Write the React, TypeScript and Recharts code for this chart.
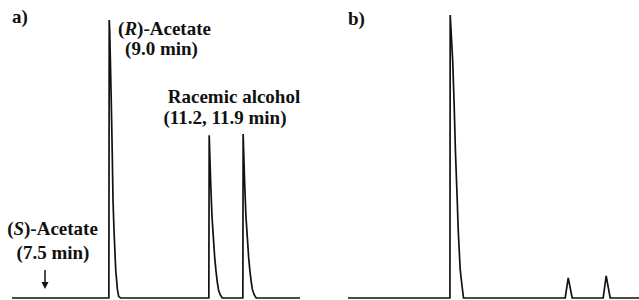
import { LineChart, Line, XAxis, YAxis } from "recharts";

// panel a) – racemic run, retention time (min) vs detector signal (% of tallest peak)
const traceATime = [
  6.88,
  8.992, 9.0, 9.011, 9.044, 9.065, 9.083, 9.105, 9.142, 9.179, 9.207, 9.25,
  11.172, 11.18, 11.213, 11.241, 11.274, 11.3, 11.326, 11.355, 11.383, 11.42, 11.464,
  11.914, 11.92, 11.953, 11.981, 12.014, 12.04, 12.066, 12.095, 12.123, 12.16, 12.204,
  13.16,
];
const traceASignal = [
  0,
  0, 100, 96, 71, 53, 35, 24, 10, 3, 0.5, 0,
  0, 58.5, 41, 29.3, 21, 14.6, 10, 5.9, 2.9, 1.2, 0,
  0, 59, 41.3, 29.5, 21.2, 14.7, 10, 6, 3, 1.2, 0,
  0,
];

// panel b) – after resolution
const traceBTime = [
  7.1,
  8.995, 9.0, 9.046, 9.074, 9.097, 9.13, 9.149, 9.186, 9.218, 9.247,
  11.138, 11.194, 11.268,
  11.844, 11.9, 11.974,
  12.51,
];
const traceBSignal = [
  0,
  0, 100, 84, 68, 52, 35, 24, 10, 4.6, 0,
  0, 7.1, 0,
  0, 7.8, 0,
  0,
];

const domainA: [number, number] = [6.88, 13.16];
const domainB: [number, number] = [7.1, 12.51];

const dataA = traceATime.map((t, i) => ({ t, s: traceASignal[i] }));
const dataB = traceBTime.map((t, i) => ({ t, s: traceBSignal[i] }));

const lbl = { fontFamily: "Liberation Serif", fontWeight: 700, fontSize: 19 };

function Trace({ data, domain, margin }: { data: { t: number; s: number }[]; domain: [number, number]; margin: any }) {
  return (
    <LineChart width={margin.w} height={300} data={data} margin={margin.m}>
      <XAxis dataKey="t" type="number" domain={domain} hide allowDataOverflow />
      <YAxis type="number" domain={[0, 100]} hide />
      <Line
        type="linear"
        dataKey="s"
        stroke="#111"
        strokeWidth={1.7}
        dot={false}
        isAnimationActive={false}
      />
    </LineChart>
  );
}

export default function App() {
  return (
    <div style={{ position: "fixed", left: 0, top: 0, width: 639, height: 300, background: "#fff", overflow: "hidden" }}>
      <div style={{ position: "absolute", left: 0, top: 0 }}>
        <Trace data={dataA} domain={domainA} margin={{ w: 320, m: { top: 20, right: 20, left: 12, bottom: 2 } }} />
      </div>
      <div style={{ position: "absolute", left: 320, top: 0 }}>
        <Trace data={dataB} domain={domainB} margin={{ w: 319, m: { top: 15, right: 0, left: 28, bottom: 2 } }} />
      </div>
      <svg width={639} height={300} style={{ position: "absolute", left: 0, top: 0, pointerEvents: "none" }}>
        <g fill="#111">
          <text x={12} y={22.5} style={lbl}>a)</text>
          <text x={348} y={25} style={lbl}>b)</text>

          <text x={164.5} y={35} textAnchor="middle" style={lbl}>
            (<tspan fontStyle="italic">R</tspan>)-Acetate
          </text>
          <text x={161.5} y={55} textAnchor="middle" style={lbl}>(9.0 min)</text>

          <text x={234} y={102.5} textAnchor="middle" style={lbl}>Racemic alcohol</text>
          <text x={225} y={123.5} textAnchor="middle" style={lbl}>(11.2, 11.9 min)</text>

          <text x={52.5} y={235} textAnchor="middle" style={lbl}>
            (<tspan fontStyle="italic">S</tspan>)-Acetate
          </text>
          <text x={53} y={259} textAnchor="middle" style={lbl}>(7.5 min)</text>
        </g>
        <line x1={45} y1={270} x2={45} y2={283} stroke="#111" strokeWidth={1.5} />
        <polygon points="41.5,282 48.5,282 45,289" fill="#111" />
      </svg>
    </div>
  );
}
